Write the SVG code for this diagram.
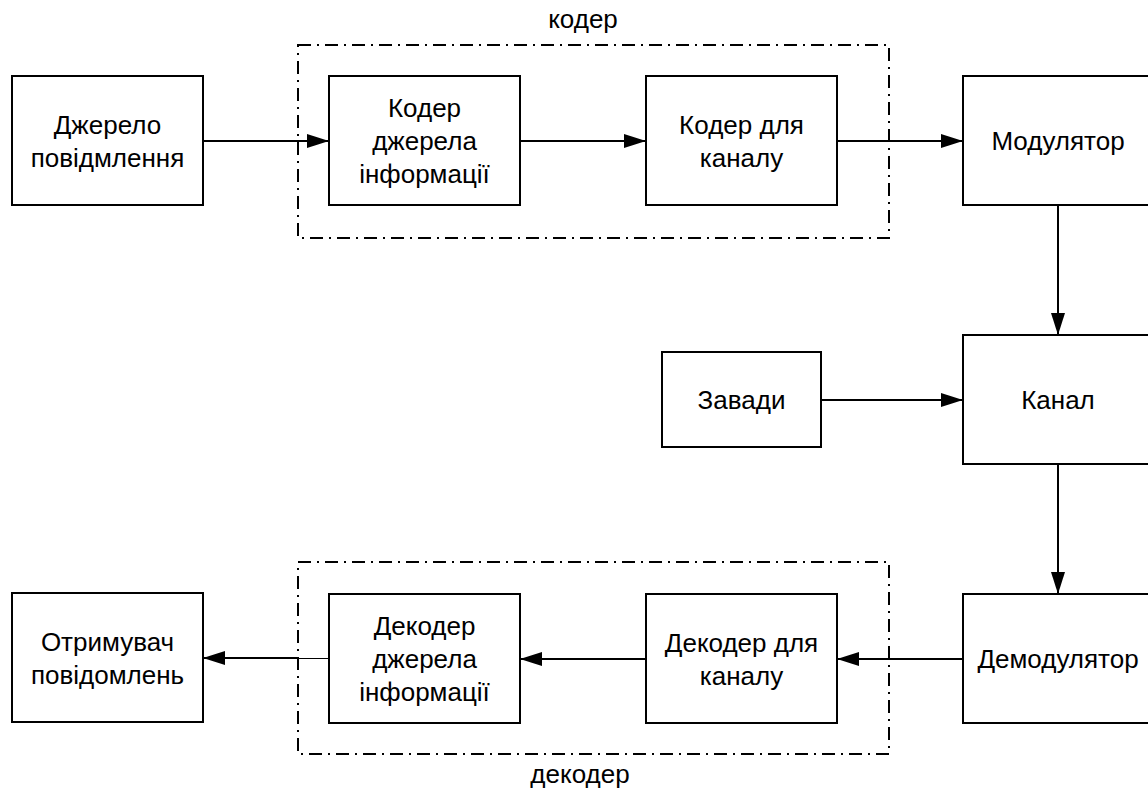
<svg xmlns="http://www.w3.org/2000/svg" width="1148" height="792" viewBox="0 0 1148 792">
  <style>
    .box { fill: #ffffff; stroke: #000000; stroke-width: 2; }
    .group { fill: none; stroke: #000000; stroke-width: 2; stroke-dasharray: 13 6 2 6; }
    .label { font-family: "Liberation Sans", Arial, sans-serif; font-size: 26px; fill: #000000; text-anchor: middle; }
    .wire { fill: none; stroke: #000000; stroke-width: 2; }
    .thin { fill: none; stroke: #000000; stroke-width: 1; }
  </style>
  <defs>
    <marker id="arrow" markerUnits="userSpaceOnUse" markerWidth="22" markerHeight="14" refX="22" refY="7" orient="auto">
      <path d="M0,0 L22,7 L0,14 Z" fill="#000000"/>
    </marker>
  </defs>
  <rect width="1148" height="792" fill="#ffffff"/>

  <!-- coder / decoder groupings -->
  <g id="coder-group">
    <rect class="group" x="298" y="45" width="591" height="193"/>
    <text class="label" x="583" y="28">кодер</text>
  </g>
  <g id="decoder-group">
    <rect class="group" x="298" y="562" width="591" height="192"/>
    <text class="label" x="580" y="783">декодер</text>
  </g>

  <!-- connectors -->
  <g id="connectors">
    <line class="wire" x1="203" y1="141" x2="329" y2="141" marker-end="url(#arrow)"/>
    <line class="wire" x1="520" y1="141" x2="646" y2="141" marker-end="url(#arrow)"/>
    <line class="wire" x1="837" y1="141" x2="963" y2="141" marker-end="url(#arrow)"/>
    <line class="wire" x1="1058" y1="205" x2="1058" y2="335" marker-end="url(#arrow)"/>
    <line class="wire" x1="821" y1="400" x2="963" y2="400" marker-end="url(#arrow)"/>
    <line class="wire" x1="1058" y1="464" x2="1058" y2="594" marker-end="url(#arrow)"/>
    <line class="wire" x1="963" y1="659" x2="837" y2="659" marker-end="url(#arrow)"/>
    <line class="wire" x1="646" y1="659" x2="520" y2="659" marker-end="url(#arrow)"/>
    <line class="thin" x1="329" y1="658.5" x2="298" y2="658.5"/>
    <line class="wire" x1="298" y1="658" x2="203" y2="658" marker-end="url(#arrow)"/>
  </g>

  <!-- nodes -->
  <g id="source">
    <rect class="box" x="12" y="76" width="191" height="129"/>
    <text class="label" x="107.5" y="133.5">Джерело</text>
    <text class="label" x="107.5" y="166.5">повідмлення</text>
  </g>
  <g id="source-coder">
    <rect class="box" x="329" y="76" width="191" height="129"/>
    <text class="label" x="424.5" y="117">Кодер</text>
    <text class="label" x="424.5" y="150">джерела</text>
    <text class="label" x="424.5" y="183">інформації</text>
  </g>
  <g id="channel-coder">
    <rect class="box" x="646" y="76" width="191" height="129"/>
    <text class="label" x="741.5" y="133.5">Кодер для</text>
    <text class="label" x="741.5" y="166.5">каналу</text>
  </g>
  <g id="modulator">
    <rect class="box" x="963" y="76" width="191" height="129"/>
    <text class="label" x="1058" y="149.5">Модулятор</text>
  </g>
  <g id="noise">
    <rect class="box" x="662" y="352" width="159" height="95"/>
    <text class="label" x="741.5" y="409">Завади</text>
  </g>
  <g id="channel">
    <rect class="box" x="963" y="335" width="191" height="129"/>
    <text class="label" x="1058" y="409">Канал</text>
  </g>
  <g id="demodulator">
    <rect class="box" x="963" y="594" width="191" height="129"/>
    <text class="label" x="1058" y="668">Демодулятор</text>
  </g>
  <g id="channel-decoder">
    <rect class="box" x="646" y="594" width="191" height="129"/>
    <text class="label" x="741.5" y="651.5">Декодер для</text>
    <text class="label" x="741.5" y="684.5">каналу</text>
  </g>
  <g id="source-decoder">
    <rect class="box" x="329" y="594" width="191" height="129"/>
    <text class="label" x="424.5" y="635">Декодер</text>
    <text class="label" x="424.5" y="668">джерела</text>
    <text class="label" x="424.5" y="701">інформації</text>
  </g>
  <g id="receiver">
    <rect class="box" x="12" y="593" width="191" height="129"/>
    <text class="label" x="107.5" y="650.5">Отримувач</text>
    <text class="label" x="107.5" y="683.5">повідомлень</text>
  </g>
</svg>
